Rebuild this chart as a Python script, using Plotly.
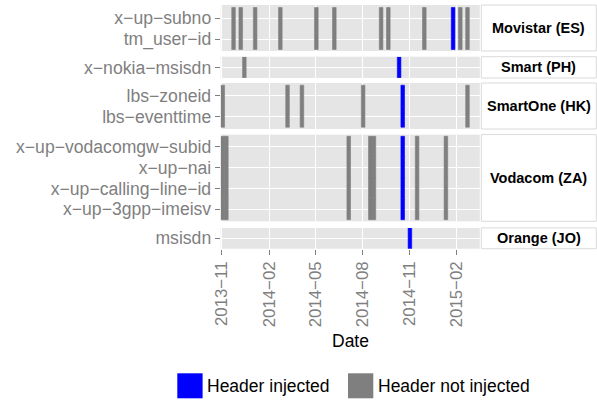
import plotly.graph_objects as go
from plotly.subplots import make_subplots

# ---------------- data ----------------
operators = ["Movistar (ES)", "Smart (PH)", "SmartOne (HK)", "Vodacom (ZA)", "Orange (JO)"]

movistar_headers = ["x−up−subno", "tm_user−id"]
smart_headers = ["x−nokia−msisdn"]
smartone_headers = ["lbs−zoneid", "lbs−eventtime"]
vodacom_headers = ["x−up−vodacomgw−subid", "x−up−nai", "x−up−calling−line−id", "x−up−3gpp−imeisv"]
orange_headers = ["msisdn"]

# week start dates (each bar = one week)
movistar_not_injected = ["2013-11-20", "2013-12-04", "2014-01-01", "2014-02-19", "2014-04-30",
                         "2014-06-04", "2014-09-03", "2014-09-17", "2014-11-26", "2015-02-04",
                         "2015-02-18"]
movistar_injected = ["2015-01-21"]
smart_not_injected = ["2013-12-11"]
smart_injected = ["2014-10-08"]
smartone_not_injected = ["2013-10-30", "2014-03-05", "2014-04-02", "2014-07-30", "2015-02-18"]
smartone_injected = ["2014-10-15"]
vodacom_not_injected = ["2013-10-30", "2013-11-06", "2014-07-02", "2014-08-13", "2014-08-20",
                        "2014-11-12", "2015-01-07"]
vodacom_injected = ["2014-10-15"]
orange_not_injected = []
orange_injected = ["2014-10-29"]

x_tick_dates = ["2013-11-01", "2014-02-01", "2014-05-01", "2014-08-01", "2014-11-01", "2015-02-01"]
x_tick_labels = ["2013−11", "2014−02", "2014−05", "2014−08", "2014−11", "2015−02"]
legend_labels = ["Header injected", "Header not injected"]
x_title = "Date"

# ---------------- styling / layout ----------------
W, H = 597, 401
WEEK_MS = 7 * 24 * 3600 * 1000
BLUE = "#0000FF"
GREY = "#7F7F7F"
AXIS_GREY = "#7F7F7F"
PANEL_BG = "#E5E5E5"
FONT = "Liberation Sans, Arial, Helvetica, sans-serif"
X_RANGE = ["2013-10-29 12:00", "2015-03-17 10:00"]


def fx(p):
    return p / W


def fy(p):
    return 1 - p / H


PANEL_X = (220.7, 479.8)
# (top px, bottom px, range lo, range hi)
PANEL_Y = [
    (5.0, 51.0, -0.571, 1.619),
    (56.7, 78.0, -0.515, 0.515),
    (83.0, 129.0, -0.586, 1.605),
    (134.6, 221.3, -0.575, 3.58),
    (227.9, 248.7, -0.5, 0.5),
]

panels = [
    (operators[0], movistar_headers, movistar_not_injected, movistar_injected),
    (operators[1], smart_headers, smart_not_injected, smart_injected),
    (operators[2], smartone_headers, smartone_not_injected, smartone_injected),
    (operators[3], vodacom_headers, vodacom_not_injected, vodacom_injected),
    (operators[4], orange_headers, orange_not_injected, orange_injected),
]

fig = make_subplots(rows=5, cols=1, shared_xaxes=True, vertical_spacing=0.01)

for i, (op, hdrs, not_inj, inj) in enumerate(panels, start=1):
    for weeks, color in ((not_inj, GREY), (inj, BLUE)):
        if not weeks:
            continue
        ys = [h for w in weeks for h in hdrs]
        bases = [w for w in weeks for h in hdrs]
        fig.add_trace(
            go.Bar(
                orientation="h",
                y=ys,
                base=bases,
                x=[WEEK_MS] * len(ys),
                width=1,
                marker=dict(color=color, line=dict(width=0.6, color=color)),
                opacity=1,
                showlegend=False,
                hoverinfo="skip",
            ),
            row=i,
            col=1,
        )
    top, bot, lo, hi = PANEL_Y[i - 1]
    fig.update_yaxes(
        row=i, col=1,
        type="category",
        categoryorder="array",
        categoryarray=list(reversed(hdrs)),
        tickmode="array", tickvals=hdrs, ticktext=hdrs,
        range=[lo, hi],
        domain=[fy(bot), fy(top)],
        automargin=False,
        ticks="outside", ticklen=5, tickwidth=1, tickcolor=AXIS_GREY,
        tickfont=dict(family=FONT, size=17.6, color=AXIS_GREY),
        showgrid=True, gridcolor="white", gridwidth=1.1,
        zeroline=False, showline=False,
    )
    fig.update_xaxes(
        row=i, col=1,
        type="date",
        range=X_RANGE,
        domain=[fx(PANEL_X[0]), fx(PANEL_X[1])],
        automargin=False,
        tickmode="array",
        tickvals=x_tick_dates,
        ticktext=x_tick_labels,
        showgrid=True, gridcolor="white", gridwidth=1.1,
        zeroline=False, showline=False,
        showticklabels=(i == 5),
        ticks="outside" if i == 5 else "",
        ticklen=5, tickwidth=1, tickcolor=AXIS_GREY,
        tickangle=-90,
        tickfont=dict(family=FONT, size=16.8, color=AXIS_GREY),
    )

shapes = []
annotations = []
# facet strips
for i, (op, hdrs, _, _) in enumerate(panels):
    top, bot, _, _ = PANEL_Y[i]
    shapes.append(dict(type="rect", xref="paper", yref="paper",
                       x0=fx(481.3), x1=fx(596.3), y0=fy(bot), y1=fy(top),
                       fillcolor="white", line=dict(color="#DADADA", width=1), layer="above"))
    annotations.append(dict(xref="paper", yref="paper", x=fx(538.8), y=fy((top + bot) / 2),
                            text=op, showarrow=False, xanchor="center", yanchor="middle",
                            font=dict(family=FONT, size=14.5, color="black", weight="bold")))

# axis title
annotations.append(dict(xref="paper", yref="paper", x=fx((PANEL_X[0] + PANEL_X[1]) / 2), y=fy(340.5),
                        text=x_title, showarrow=False, xanchor="center", yanchor="middle",
                        font=dict(family=FONT, size=17.5, color="black")))

# legend
legend_keys = [(177.3, BLUE), (348.0, GREY)]
for (kx, col), lab in zip(legend_keys, legend_labels):
    shapes.append(dict(type="rect", xref="paper", yref="paper",
                       x0=fx(kx), x1=fx(kx + 25.3), y0=fy(398.3), y1=fy(373.3),
                       fillcolor=col, line=dict(width=0)))
    annotations.append(dict(xref="paper", yref="paper", x=fx(kx + 28.0), y=fy(386.0),
                            text=lab, showarrow=False, xanchor="left", yanchor="middle",
                            font=dict(family=FONT, size=17.5, color="black")))

fig.update_layout(
    width=W, height=H,
    margin=dict(l=0, r=0, t=0, b=0, pad=0, autoexpand=False),
    paper_bgcolor="white",
    plot_bgcolor=PANEL_BG,
    barmode="overlay",
    showlegend=False,
    font=dict(family=FONT),
    shapes=shapes,
    annotations=annotations,
)

fig.write_html("out.html", config={"displayModeBar": False},
               post_script="document.body.style.margin='0px';")
